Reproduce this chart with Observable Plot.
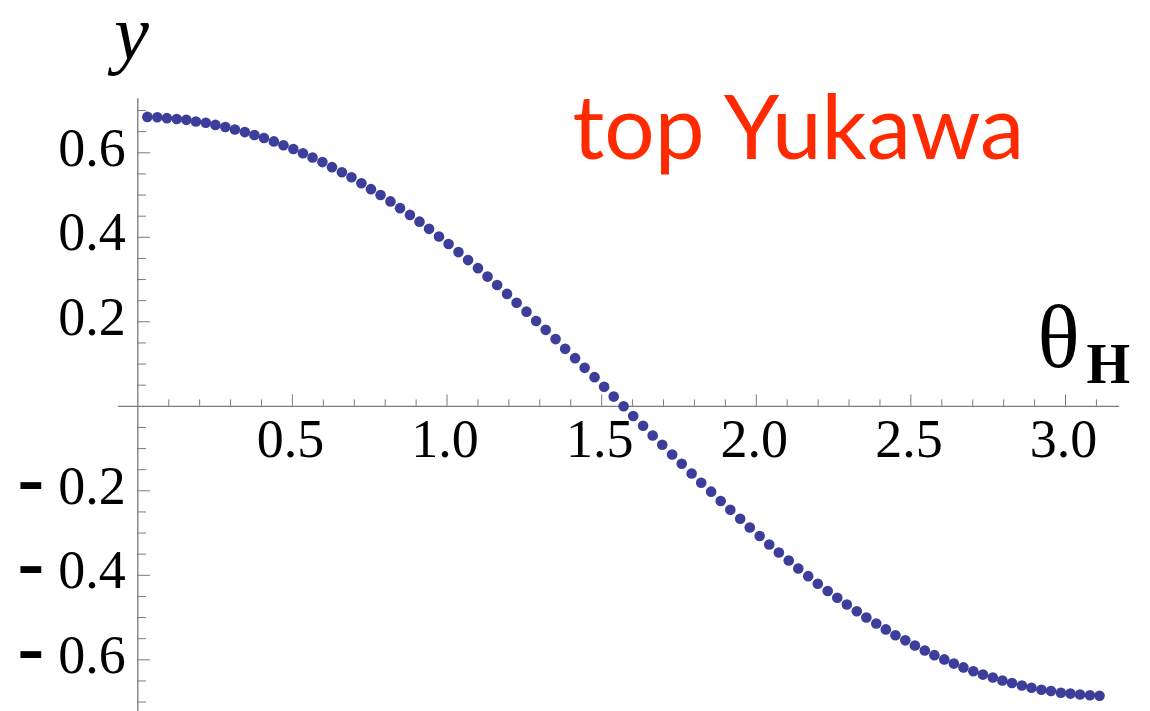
<!DOCTYPE html>
<html>
<head>
<meta charset="utf-8">
<script src="https://cdn.jsdelivr.net/npm/d3@7"></script>
<script src="https://cdn.jsdelivr.net/npm/@observablehq/plot@0.6"></script>
<style>
  html, body { margin: 0; padding: 0; background: #ffffff; }
  #chart { width: 1150px; height: 711px; }
</style>
</head>
<body>
<div id="chart"></div>
<script>
// θ_H sample positions
const theta = [
  0.031, 0.063, 0.094, 0.126, 0.157, 0.188, 0.220, 0.251, 0.283, 0.314,
  0.346, 0.377, 0.408, 0.440, 0.471, 0.503, 0.534, 0.565, 0.597, 0.628,
  0.660, 0.691, 0.723, 0.754, 0.785, 0.817, 0.848, 0.880, 0.911, 0.942,
  0.974, 1.005, 1.037, 1.068, 1.100, 1.131, 1.162, 1.194, 1.225, 1.257,
  1.288, 1.319, 1.351, 1.382, 1.414, 1.445, 1.477, 1.508, 1.539, 1.571,
  1.602, 1.634, 1.665, 1.696, 1.728, 1.759, 1.791, 1.822, 1.854, 1.885,
  1.916, 1.948, 1.979, 2.011, 2.042, 2.073, 2.105, 2.136, 2.168, 2.199,
  2.231, 2.262, 2.293, 2.325, 2.356, 2.388, 2.419, 2.450, 2.482, 2.513,
  2.545, 2.576, 2.608, 2.639, 2.670, 2.702, 2.733, 2.765, 2.796, 2.827,
  2.859, 2.890, 2.922, 2.953, 2.985, 3.016, 3.047, 3.079, 3.110
];
// top Yukawa coupling values y
const yukawa = [
  0.685, 0.684, 0.682, 0.680, 0.678, 0.674, 0.671, 0.666, 0.661, 0.655,
  0.649, 0.642, 0.635, 0.627, 0.618, 0.609, 0.599, 0.589, 0.578, 0.566,
  0.554, 0.542, 0.528, 0.514, 0.500, 0.485, 0.469, 0.453, 0.437, 0.420,
  0.402, 0.384, 0.365, 0.346, 0.327, 0.307, 0.287, 0.266, 0.245, 0.224,
  0.202, 0.181, 0.159, 0.136, 0.114, 0.091, 0.069, 0.046, 0.023, 0.000,
  -0.023, -0.046, -0.069, -0.091, -0.114, -0.136, -0.159, -0.181, -0.202, -0.224,
  -0.245, -0.266, -0.287, -0.307, -0.327, -0.346, -0.365, -0.384, -0.402, -0.420,
  -0.437, -0.453, -0.469, -0.485, -0.500, -0.514, -0.528, -0.542, -0.554, -0.566,
  -0.578, -0.589, -0.599, -0.609, -0.618, -0.627, -0.635, -0.642, -0.649, -0.655,
  -0.661, -0.666, -0.671, -0.674, -0.678, -0.680, -0.682, -0.684, -0.685
];

// Axis ticks and labels
const xMajorTicks = [0.5, 1.0, 1.5, 2.0, 2.5, 3.0];
const xTickLabels = ["0.5", "1.0", "1.5", "2.0", "2.5", "3.0"];
const xMinorTicks = [0.1,0.2,0.3,0.4,0.6,0.7,0.8,0.9,1.1,1.2,1.3,1.4,1.6,1.7,1.8,1.9,2.1,2.2,2.3,2.4,2.6,2.7,2.8,2.9,3.1];
const yMajorTicks = [0.6, 0.4, 0.2, -0.2, -0.4, -0.6];
const yTickLabels = ["0.6", "0.4", "0.2", "0.2", "0.4", "0.6"];
const yMinorTicks = [0.70,0.65,0.55,0.50,0.45,0.35,0.30,0.25,0.15,0.10,0.05,-0.05,-0.10,-0.15,-0.25,-0.30,-0.35,-0.45,-0.50,-0.55,-0.65,-0.70];

const points = theta.map((t, i) => ({theta: t, y: yukawa[i]}));
const yLabelData = yMajorTicks.map((v, i) => ({v, label: yTickLabels[i]}));
const xLabelData = xMajorTicks.map((v, i) => ({v, label: xTickLabels[i]}));

const axisColor = "#7a7a7a";
const serif = "'Liberation Serif', 'DejaVu Serif', serif";

const chart = Plot.plot({
  width: 1150,
  height: 711,
  margin: 0,
  x: {domain: [0, 3], range: [137.3, 1065], axis: null},
  y: {domain: [-0.6, 0.6], range: [659.3, 152.3], axis: null},
  style: {background: "#ffffff", overflow: "visible"},
  marks: [
    // axis lines
    Plot.ruleY([0], {x1: -0.0624, x2: 3.175, stroke: axisColor, strokeWidth: 1.3}),
    Plot.ruleX([0], {y1: -0.75, y2: 0.728, stroke: axisColor, strokeWidth: 1.3}),
    // x ticks (pointing up)
    Plot.ruleX(xMinorTicks, {y1: 0, y2: 0.015, stroke: axisColor, strokeWidth: 1}),
    Plot.ruleX(xMajorTicks, {y1: 0, y2: 0.027, stroke: axisColor, strokeWidth: 1}),
    // y ticks (pointing right)
    Plot.ruleY(yMinorTicks, {x1: 0, x2: 0.028, stroke: axisColor, strokeWidth: 1}),
    Plot.ruleY(yMajorTicks, {x1: 0, x2: 0.041, stroke: axisColor, strokeWidth: 1}),
    // x tick labels
    Plot.text(xLabelData, {x: "v", y: 0, text: "label", dy: 51, dx: -2, lineAnchor: "bottom",
      textAnchor: "middle", fontSize: 54, fontFamily: serif, fill: "#000"}),
    // y tick labels
    Plot.text(yLabelData, {x: 0, y: "v", text: "label", dx: -12, dy: 12.7, lineAnchor: "bottom",
      textAnchor: "end", fontSize: 54, fontFamily: serif, fill: "#000"}),
    // minus signs of negative y labels
    Plot.text(yMajorTicks.filter(v => v < 0), {x: 0, y: d => d, text: () => "-", dx: -107, dy: 14,
      lineAnchor: "bottom", textAnchor: "middle", fontSize: 80, fontWeight: "bold", fontFamily: serif, fill: "#000"}),
    // data
    Plot.dot(points, {x: "theta", y: "y", r: 5.3, fill: "#3d3d9b", stroke: null}),
    // axis titles
    Plot.text(["y"], {frameAnchor: "top-left", dx: 131, dy: 58, lineAnchor: "bottom", textAnchor: "middle",
      fontSize: 78, fontStyle: "italic", fontFamily: serif, fill: "#000"}),
    Plot.text(["θ"], {frameAnchor: "top-left", dx: 1037, dy: 366, lineAnchor: "bottom", textAnchor: "start",
      fontSize: 88, fontFamily: serif, fill: "#000"}),
    Plot.text(["H"], {frameAnchor: "top-left", dx: 1086, dy: 382, lineAnchor: "bottom", textAnchor: "start",
      fontSize: 56, fontWeight: "bold", fontFamily: serif, fill: "#000"}),
    // annotation
    Plot.text(["top Yukawa"], {frameAnchor: "top-left", dx: 572, dy: 158, lineAnchor: "bottom", textAnchor: "start",
      fontSize: 89, fontFamily: "Lato, 'Open Sans', sans-serif", fill: "#ff2a00"})
  ]
});
document.getElementById("chart").appendChild(chart);
</script>
</body>
</html>
